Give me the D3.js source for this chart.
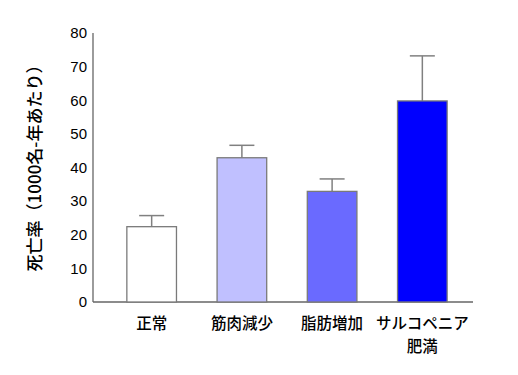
<!DOCTYPE html>
<html>
<head>
<meta charset="utf-8">
<script src="https://cdn.jsdelivr.net/npm/d3@7"></script>
<style>
body{margin:0;background:#fff;}
text{font-family:"Liberation Sans",Arial,sans-serif;}
.jp{font-family:"Noto Sans CJK JP",sans-serif;}
</style>
</head>
<body>
<svg width="518" height="375"></svg>
<script>
var categories = ['正常','筋肉減少','脂肪増加','サルコペニア\n肥満'];
var rates = [22.4, 42.9, 32.9, 59.8];
var errors = [3.3, 3.7, 3.7, 13.4];
var colors = ['#ffffff','#c0c0ff','#6a6aff','#0000ff'];
var yTicks = [0,10,20,30,40,50,60,70,80];

var svg = d3.select('svg');
var x0 = 93, xEnd = 473, yTop = 33, yBase = 302;

var x = d3.scaleBand()
          .domain(categories)
          .range([107, 467])
          .paddingInner(0.45)
          .paddingOuter(0.22);
var y = d3.scaleLinear().domain([0,80]).range([yBase, yTop]);

// axis lines
svg.append('line')
   .attr('x1',x0).attr('x2',x0).attr('y1',yTop).attr('y2',yBase)
   .attr('stroke','#666').attr('stroke-width',1.3);
svg.append('line')
   .attr('x1',x0).attr('x2',xEnd).attr('y1',yBase).attr('y2',yBase)
   .attr('stroke','#666').attr('stroke-width',1.3);

svg.selectAll('.tick')
   .data(yTicks)
   .enter().append('text')
     .attr('x',x0-6)
     .attr('y',d=>y(d))
     .attr('dy','0.35em')
     .attr('text-anchor','end')
     .attr('font-size',15)
     .text(d=>d);

var data = categories.map((c,i)=>({cat:c,v:rates[i],e:errors[i],col:colors[i]}));

// error bars
var err = svg.selectAll('.err').data(data).enter().append('g');
err.append('line')
   .attr('x1',d=>x(d.cat)+x.bandwidth()/2)
   .attr('x2',d=>x(d.cat)+x.bandwidth()/2)
   .attr('y1',d=>y(d.v))
   .attr('y2',d=>y(d.v+d.e))
   .attr('stroke','#808080').attr('stroke-width',1.5);
err.append('line')
   .attr('x1',d=>x(d.cat)+x.bandwidth()/2-12.5)
   .attr('x2',d=>x(d.cat)+x.bandwidth()/2+12.5)
   .attr('y1',d=>y(d.v+d.e))
   .attr('y2',d=>y(d.v+d.e))
   .attr('stroke','#808080').attr('stroke-width',1.5);

svg.selectAll('.bar')
   .data(data)
   .enter().append('rect')
     .attr('x',d=>x(d.cat))
     .attr('y',d=>y(d.v))
     .attr('width',x.bandwidth())
     .attr('height',d=>yBase-y(d.v))
     .attr('fill',d=>d.col)
     .attr('stroke','#7a7a7a')
     .attr('stroke-width',1.3);

// category labels
var lab = svg.selectAll('.cat')
   .data(data)
   .enter().append('text')
     .attr('class','jp')
     .attr('text-anchor','middle')
     .attr('font-size',15.5)
     .attr('font-weight',500)
     .attr('y',329);
lab.selectAll('tspan')
   .data(d=>d.cat.split('\n').map(s=>({s:s,cx:x(d.cat)+x.bandwidth()/2})))
   .enter().append('tspan')
     .attr('x',d=>d.cx)
     .attr('dy',(d,i)=>i?'1.5em':0)
     .text(d=>d.s);

svg.append('text')
   .attr('class','jp')
   .attr('transform','translate(41,164) rotate(-90)')
   .attr('text-anchor','middle')
   .attr('font-size',17)
   .attr('font-weight',500)
   .text('死亡率（1000名-年あたり）');
</script>
</body>
</html>
